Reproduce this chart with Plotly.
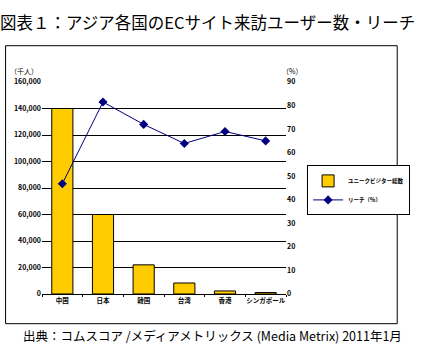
import plotly.graph_objects as go

categories = ["中国", "日本", "韓国", "台湾", "香港", "シンガポール"]
visitors = [140000, 60000, 22000, 8300, 2300, 1100]
reach = [46.8, 81.5, 72.0, 63.9, 69.0, 65.0]

W, H = 422, 351
L, R, T, B = 41.5, 296, 82.3, 294.3
pw, ph = R - L, B - T

def px(x):
    return (x - L) / pw

def py(y):
    return (B - y) / ph

FONT = "Noto Sans CJK JP"

fig = go.Figure()
fig.add_trace(go.Bar(
    x=categories, y=visitors, name="ユニークビジター総数",
    marker=dict(color="#FFCC00", line=dict(color="black", width=1)),
    yaxis="y",
))
fig.add_trace(go.Scatter(
    x=categories, y=reach, name="リーチ（%）", mode="lines+markers",
    line=dict(color="#000080", width=1),
    marker=dict(symbol="diamond", size=7, color="#000080"),
    yaxis="y2",
))

fig.update_layout(
    width=W, height=H,
    margin=dict(l=L, r=W - R, t=T, b=H - B),
    paper_bgcolor="white", plot_bgcolor="white",
    bargap=0.48,
    font=dict(family=FONT, size=7, color="black"),
    xaxis=dict(
        showline=True, linecolor="black", linewidth=1,
        ticks="outside", ticklen=2, tickcolor="black", tickson="boundaries",
        tickfont=dict(size=6.5, family=FONT, weight="bold", color="black"),
        tickangle=0, color="black",
        showgrid=False,
    ),
    yaxis=dict(
        range=[0, 160000], dtick=20000, tickformat=",",
        showgrid=True, gridcolor="black", gridwidth=1,
        showline=False, zeroline=False, ticks="", color="black",
        tickfont=dict(size=7, family=FONT, color="black", weight="bold"),
    ),
    yaxis2=dict(
        range=[0, 90], dtick=10, overlaying="y", side="right",
        showgrid=False, showline=False, zeroline=False, ticks="", color="black",
        tickfont=dict(size=7, family=FONT, color="black", weight="bold"),
    ),
    legend=dict(
        x=px(318), y=py(165.7), xanchor="left", yanchor="top",
        bordercolor="black", borderwidth=1, bgcolor="white",
        font=dict(size=5.5, family=FONT, weight="bold", color="black"),
        tracegroupgap=0, itemwidth=30,
    ),
    showlegend=True,
)

fig.add_shape(type="rect", xref="paper", yref="paper",
              x0=px(3.5), x1=px(412), y0=py(324), y1=py(46),
              line=dict(color="black", width=1), fillcolor="rgba(0,0,0,0)")

fig.add_annotation(text="図表１：アジア各国のECサイト来訪ユーザー数・リーチ",
                   xref="paper", yref="paper", x=px(-4), y=py(22),
                   xanchor="left", yanchor="middle", showarrow=False,
                   font=dict(size=16.5, family=FONT, color="black"))
fig.add_annotation(text="出典：コムスコア /メディアメトリックス (Media Metrix) 2011年1月",
                   xref="paper", yref="paper", x=px(20), y=py(336),
                   xanchor="left", yanchor="middle", showarrow=False,
                   font=dict(size=12.5, family=FONT, color="black"))
fig.add_annotation(text="（千人）", xref="paper", yref="paper", x=px(6), y=py(71),
                   xanchor="left", yanchor="middle", showarrow=False,
                   font=dict(size=7, family=FONT, color="black"))
fig.add_annotation(text="（%）", xref="paper", yref="paper", x=px(290), y=py(71),
                   xanchor="left", yanchor="middle", showarrow=False,
                   font=dict(size=7, family=FONT, color="black"))

fig.write_html("out.html")
